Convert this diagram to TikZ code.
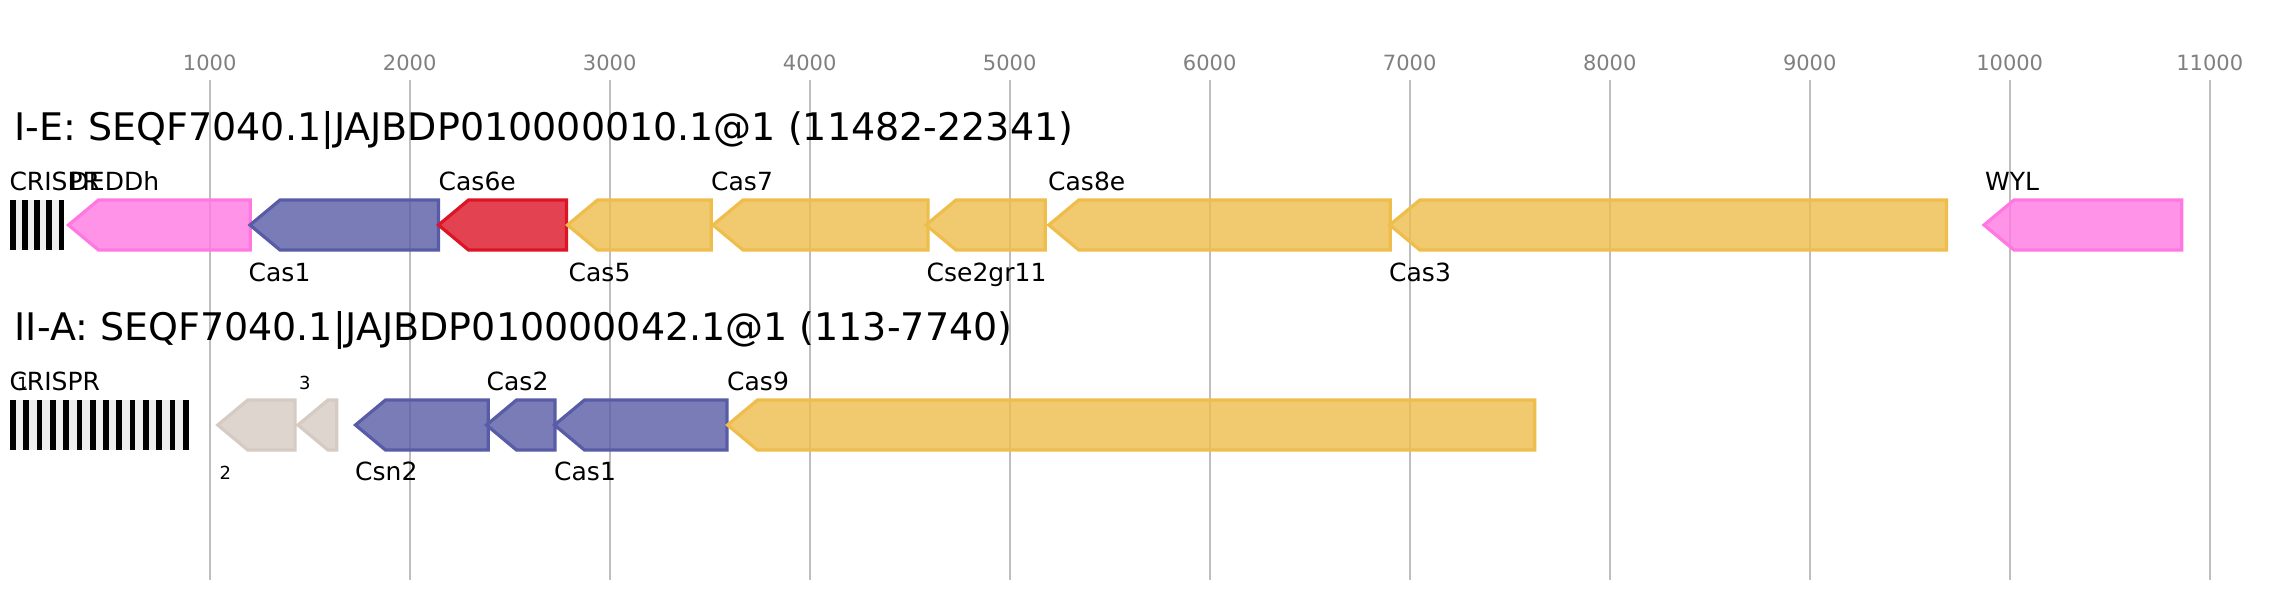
\documentclass[tikz,border=0pt]{standalone}
\usepackage{fontspec}
\setmainfont{DejaVu Sans}
\definecolor{pinkS}{RGB}{255,120,225}
\definecolor{blueS}{RGB}{88,92,166}
\definecolor{redS}{RGB}{220,20,38}
\definecolor{yelS}{RGB}{238,189,76}
\definecolor{beigeS}{RGB}{214,203,195}
\definecolor{gridC}{RGB}{190,190,190}
\definecolor{axisC}{RGB}{128,128,128}
\definecolor{arrBg}{RGB}{238,238,238}
\tikzset{
  genebase/.style={line width=3.2pt, line join=miter, fill opacity=0.8},
  pinkgene/.style={genebase, draw=pinkS, fill=pinkS},
  bluegene/.style={genebase, draw=blueS, fill=blueS},
  redgene/.style={genebase, draw=redS, fill=redS},
  yelgene/.style={genebase, draw=yelS, fill=yelS},
  beigegene/.style={genebase, draw=beigeS, fill=beigeS},
  gridline/.style={draw=gridC, line width=2pt},
  axislabel/.style={anchor=base, inner sep=0pt, text=axisC, font=\fontsize{21}{25}\selectfont},
  titlelabel/.style={anchor=base west, inner sep=0pt, font=\fontsize{38}{44}\selectfont},
  genelabel/.style={anchor=base west, inner sep=0pt, font=\fontsize{25}{30}\selectfont},
  smalllabel/.style={anchor=base west, inner sep=0pt, font=\fontsize{18}{22}\selectfont},
}
\newcommand\genearrow[4]{%
  \pgfmathsetmacro\gcorner{min(#2+30,#3)}%
  \draw[#1] (#2,#4+25) -- (\gcorner,#4) -- (#3,#4) -- (#3,#4+50) -- (\gcorner,#4+50) -- cycle;}
\begin{document}
\begin{tikzpicture}[x=1pt,y=-1pt]
\useasboundingbox (0,0) rectangle (2272,600);
\fill[white] (0,0) rectangle (2272,600);
% grid and axis
\foreach \k in {1,...,11} {
  \pgfmathsetmacro\gx{9.7+200*\k}
  \draw[gridline] (\gx,80) -- (\gx,580);
  \node[axislabel] (ax\k) at (\gx,70) {\k000};
}
% titles
\node[titlelabel] (title1) at (14.5,140.7) {I-E: SEQF7040.1|JAJBDP010000010.1@1 (11482-22341)};
\node[titlelabel] (title2) at (14.5,340.7) {II-A: SEQF7040.1|JAJBDP010000042.1@1 (113-7740)};
% row 1 CRISPR array
\fill[arrBg] (10,200) rectangle (64.3,249.5);
\foreach \i in {0,...,4} { \fill[black] (10+12.15*\i,200) rectangle (15.7+12.15*\i,249.5); }
% row 1 genes
\genearrow{pinkgene}{68.5}{250.2}{200}
\genearrow{bluegene}{250}{438.4}{200}
\genearrow{redgene}{438.5}{566.4}{200}
\genearrow{yelgene}{567.5}{711.3}{200}
\genearrow{yelgene}{713}{928.1}{200}
\genearrow{yelgene}{926}{1045.2}{200}
\genearrow{yelgene}{1048.8}{1390.2}{200}
\genearrow{yelgene}{1389.8}{1946.5}{200}
\genearrow{pinkgene}{1984}{2181.8}{200}
% row 1 labels
\node[genelabel] (l1crispr) at (9.3,190) {CRISPR};
\node[genelabel] (l1deddh) at (69.5,190) {DEDDh};
\node[genelabel] (l1cas6e) at (438.5,190) {Cas6e};
\node[genelabel] (l1cas7) at (711,190) {Cas7};
\node[genelabel] (l1cas8e) at (1048,190) {Cas8e};
\node[genelabel] (l1wyl) at (1985,190) {WYL};
\node[genelabel] (l1cas1) at (248.5,281) {Cas1};
\node[genelabel] (l1cas5) at (568.5,281) {Cas5};
\node[genelabel] (l1cse2) at (926.5,281) {Cse2gr11};
\node[genelabel] (l1cas3) at (1389,281) {Cas3};
% row 2 CRISPR array
\fill[arrBg] (10,400) rectangle (189,449.5);
\foreach \i in {0,...,13} { \fill[black] (10+13.3*\i,400) rectangle (15.7+13.3*\i,449.5); }
% row 2 genes
\genearrow{beigegene}{217.8}{295.1}{400}
\genearrow{beigegene}{298}{336.7}{400}
\genearrow{bluegene}{355.5}{488.3}{400}
\genearrow{bluegene}{486.5}{555}{400}
\genearrow{bluegene}{554.5}{727}{400}
\genearrow{yelgene}{727.5}{1534.8}{400}
% row 2 labels
\node[genelabel] (l2crispr) at (9.3,390) {CRISPR};
\node[smalllabel] (l2g1) at (17,390) {1};
\node[smalllabel] (l2g3) at (299,389) {3};
\node[genelabel] (l2cas2) at (486.5,390) {Cas2};
\node[genelabel] (l2cas9) at (727,390) {Cas9};
\node[smalllabel] (l2g2) at (219.5,479.5) {2};
\node[genelabel] (l2csn2) at (355,480) {Csn2};
\node[genelabel] (l2cas1) at (554,480) {Cas1};
\end{tikzpicture}
\end{document}
